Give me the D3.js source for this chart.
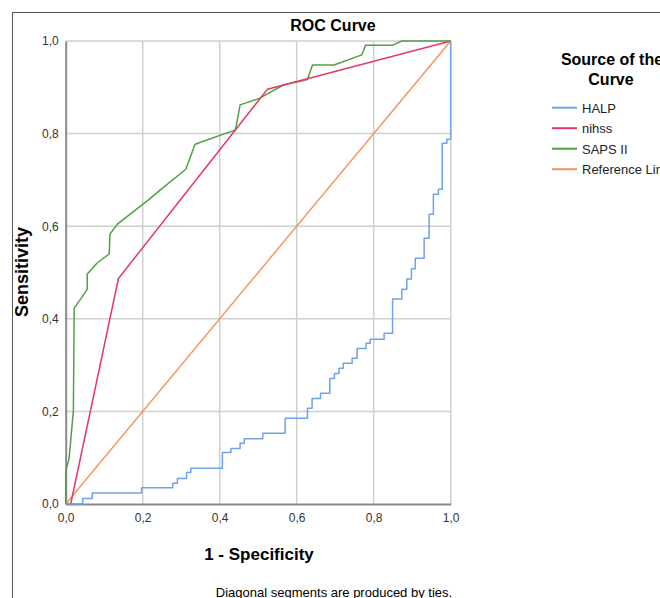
<!DOCTYPE html>
<html>
<head>
<meta charset="utf-8">
<script src="https://cdn.jsdelivr.net/npm/d3@7"></script>
<style>
  html, body { margin: 0; padding: 0; background: #fff; }
  svg { display: block; font-family: "Liberation Sans", Arial, sans-serif; }
</style>
</head>
<body>
<svg id="chart" width="660" height="598"></svg>
<script>
// 1 - specificity / sensitivity
const halpFpr = [0, 0.044, 0.069, 0.197, 0.278, 0.290, 0.314, 0.325, 0.407, 0.429, 0.453, 0.464, 0.512, 0.570,
  0.628, 0.640, 0.662, 0.686, 0.698, 0.710, 0.721, 0.744, 0.757, 0.780, 0.791, 0.827, 0.849, 0.873, 0.886,
  0.898, 0.908, 0.931, 0.944, 0.955, 0.968, 0.978, 0.990, 1]
const halpTpr = [0, 0.012, 0.024, 0.035, 0.045, 0.055, 0.068, 0.077, 0.111, 0.120, 0.131, 0.141, 0.153, 0.185,
  0.207, 0.228, 0.239, 0.271, 0.282, 0.293, 0.304, 0.315, 0.336, 0.347, 0.356, 0.369, 0.443, 0.464, 0.486,
  0.508, 0.531, 0.574, 0.626, 0.669, 0.680, 0.779, 0.788, 1]

const nihssFpr = [0, 0.013, 0.137, 0.524, 1]
const nihssTpr = [0, 0, 0.487, 0.896, 1]

const sapsFpr = [0, 0, 0.009, 0.020, 0.022, 0.046, 0.056, 0.056, 0.081, 0.113, 0.115, 0.135, 0.215, 0.245,
  0.312, 0.336, 0.441, 0.453, 0.503, 0.565, 0.628, 0.641, 0.697, 0.769, 0.779, 0.849, 0.873, 1]
const sapsTpr = [0, 0.070, 0.099, 0.203, 0.423, 0.451, 0.464, 0.497, 0.520, 0.540, 0.583, 0.605, 0.657, 0.678,
  0.723, 0.777, 0.808, 0.862, 0.876, 0.905, 0.917, 0.948, 0.948, 0.970, 0.991, 0.991, 1, 1]

const refFpr = [0, 1]
const refTpr = [0, 1]

const seriesNames = ["HALP", "nihss", "SAPS II", "Reference Line"]
const tickValues = [0, 0.2, 0.4, 0.6, 0.8, 1]

const colors = d3.scaleOrdinal()
  .domain(seriesNames)
  .range(["#6fa3ea", "#e23a64", "#51a045", "#f8955d"])

const zip = (xs, ys) => xs.map((x, i) => [x, ys[i]])

const series = [
  { name: "HALP", points: zip(halpFpr, halpTpr), step: true },
  { name: "nihss", points: zip(nihssFpr, nihssTpr), step: false },
  { name: "SAPS II", points: zip(sapsFpr, sapsTpr), step: false },
  { name: "Reference Line", points: zip(refFpr, refTpr), step: false },
]

const comma = d3.formatLocale({ decimal: ",", thousands: ".", grouping: [3], currency: ["", ""] }).format(".1f")

const svg = d3.select("#chart")

const margin = { top: 41, left: 65.7 }
const innerWidth = 385
const innerHeight = 463

// outer frame
svg.append("rect")
  .attr("x", 12.5).attr("y", 12.5)
  .attr("width", 700).attr("height", 700)
  .attr("fill", "none")
  .attr("stroke", "#555")
  .attr("stroke-width", 1)

svg.append("text")
  .attr("x", 333).attr("y", 31)
  .attr("text-anchor", "middle")
  .attr("font-size", 16).attr("font-weight", "bold")
  .text("ROC Curve")

const x = d3.scaleLinear().domain([0, 1]).range([0, innerWidth])
const y = d3.scaleLinear().domain([0, 1]).range([innerHeight, 0])

const g = svg.append("g")
  .attr("transform", `translate(${margin.left}, ${margin.top})`)

// grid
g.append("g").selectAll("line.vx").data(tickValues.slice(1)).join("line")
  .attr("x1", d => x(d)).attr("x2", d => x(d))
  .attr("y1", 0).attr("y2", innerHeight)
  .attr("stroke", "#cfcfcf").attr("stroke-width", 1.5)
g.append("g").selectAll("line.hy").data(tickValues.slice(1)).join("line")
  .attr("x1", 0).attr("x2", innerWidth)
  .attr("y1", d => y(d)).attr("y2", d => y(d))
  .attr("stroke", "#cfcfcf").attr("stroke-width", 1.5)

// axes
const xAxis = g.append("g")
  .attr("transform", `translate(0, ${innerHeight})`)
  .call(d3.axisBottom(x).tickValues(tickValues).tickFormat(comma).tickSize(0).tickPadding(9))
xAxis.select(".domain").attr("stroke", "#8a8a8a").attr("stroke-width", 2)
xAxis.selectAll("text").attr("font-size", 12).attr("fill", "#333").attr("font-family", null)

const yAxis = g.append("g")
  .call(d3.axisLeft(y).tickValues(tickValues).tickFormat(comma).tickSize(0).tickPadding(7))
yAxis.select(".domain").attr("stroke", "#8a8a8a").attr("stroke-width", 2)
yAxis.selectAll("text").attr("font-size", 12).attr("fill", "#333").attr("font-family", null)

// curves
const lineFn = d3.line().x(d => x(d[0])).y(d => y(d[1]))
const stepFn = d3.line().x(d => x(d[0])).y(d => y(d[1])).curve(d3.curveStepAfter)

g.append("g").selectAll("path").data(series.slice().reverse()).join("path")
  .attr("d", d => d.step ? stepFn(d.points) : lineFn(d.points))
  .attr("fill", "none")
  .attr("stroke", d => colors(d.name))
  .attr("stroke-width", 1.5)
  .attr("stroke-linejoin", "round")

// axis titles
svg.append("text")
  .attr("transform", "translate(28, 272) rotate(-90)")
  .attr("text-anchor", "middle")
  .attr("font-size", 18).attr("font-weight", "bold")
  .text("Sensitivity")

svg.append("text")
  .attr("x", 259).attr("y", 560)
  .attr("text-anchor", "middle")
  .attr("font-size", 17).attr("font-weight", "bold")
  .text("1 - Specificity")

svg.append("text")
  .attr("x", 334).attr("y", 597)
  .attr("text-anchor", "middle")
  .attr("font-size", 13)
  .text("Diagonal segments are produced by ties.")

// legend
const legend = svg.append("g")
legend.append("text")
  .attr("x", 612).attr("y", 65)
  .attr("text-anchor", "middle")
  .attr("font-size", 16).attr("font-weight", "bold")
  .text("Source of the")
legend.append("text")
  .attr("x", 611).attr("y", 85)
  .attr("text-anchor", "middle")
  .attr("font-size", 16).attr("font-weight", "bold")
  .text("Curve")

const items = legend.selectAll("g.item").data(seriesNames).join("g")
  .attr("class", "item")
  .attr("transform", (d, i) => `translate(552, ${107.7 + i * 20.5})`)
items.append("line")
  .attr("x1", 0).attr("x2", 25)
  .attr("stroke", d => colors(d))
  .attr("stroke-width", 2)
items.append("text")
  .attr("x", 30).attr("y", 5)
  .attr("font-size", 13)
  .attr("fill", "#222")
  .text(d => d)
</script>
</body>
</html>
